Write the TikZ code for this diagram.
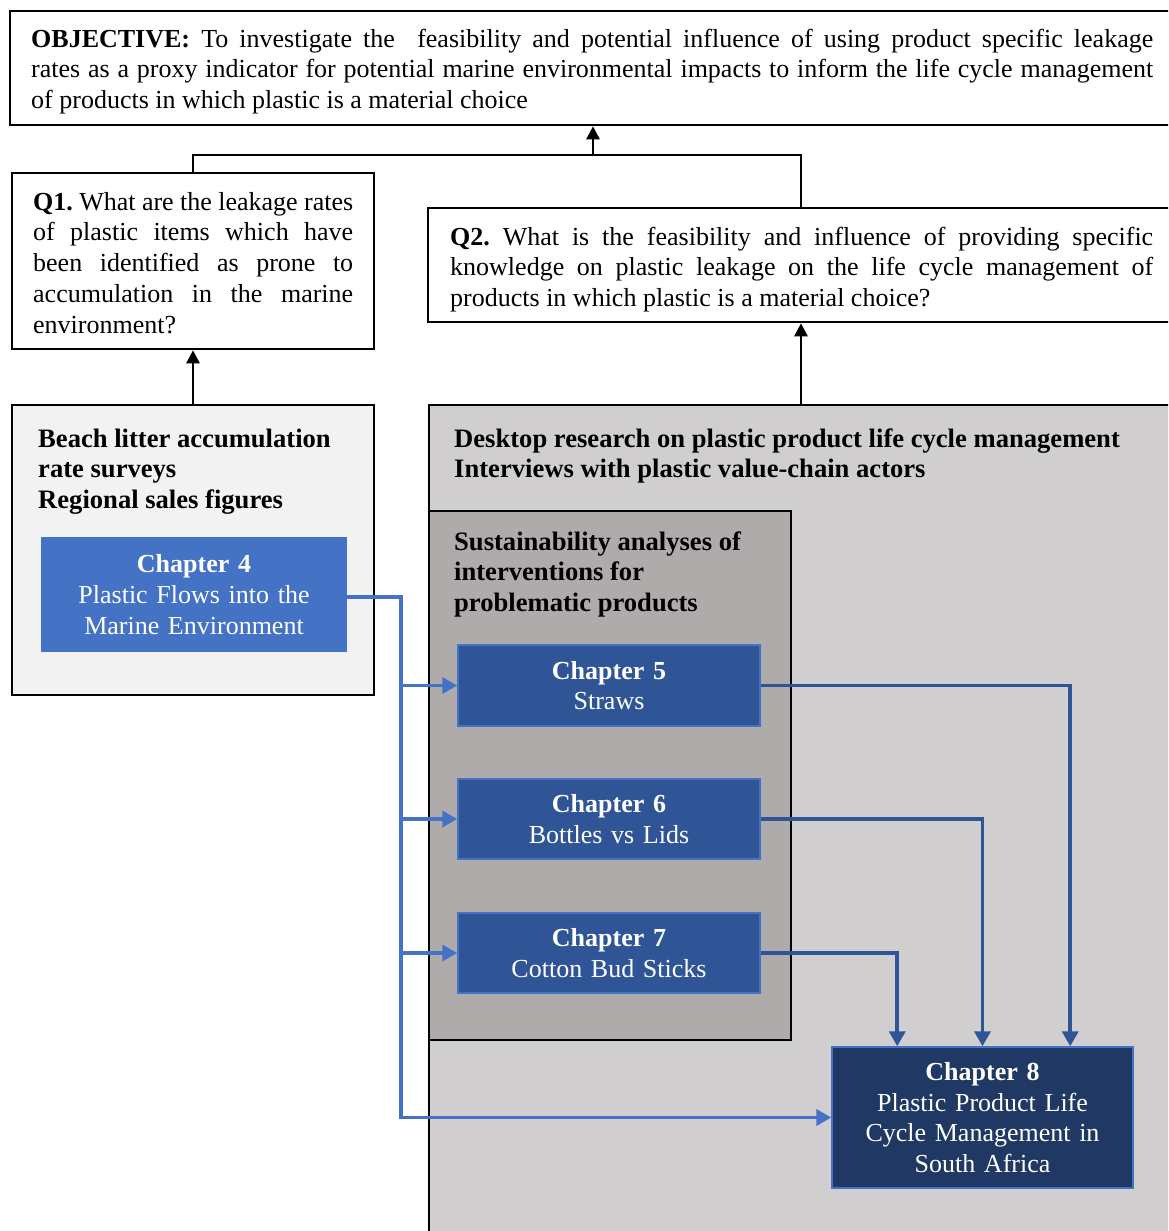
\documentclass[tikz,border=0pt]{standalone}
\usepackage{fontspec}
\setmainfont{Liberation Serif}
\usetikzlibrary{arrows.meta,calc}
\frenchspacing

\definecolor{beachfill}{HTML}{F2F2F2}
\definecolor{deskfill}{HTML}{D0CECE}
\definecolor{susfill}{HTML}{AFABAB}
\definecolor{chapblue}{HTML}{4472C4}
\definecolor{chapmid}{HTML}{2F5597}
\definecolor{chapdark}{HTML}{1F3864}

% a line stretched to a given width (justified) and a natural-width line
\newcommand{\jline}[2]{\hbox to #1{\strut #2}}
\newcommand{\pline}[1]{\hbox{\strut #1}}

\begin{document}
\begin{tikzpicture}[x=1pt,y=-1pt,
  every node/.style={font=\fontsize{26}{30.75}\selectfont},
  frame/.style={draw=black, line width=2.6pt, rectangle, inner sep=0pt},
  blurb/.style={anchor=north west, inner sep=0pt},
  boldblurb/.style={blurb, font=\fontsize{26.6}{30.75}\selectfont\bfseries},
  chapter/.style={rectangle, draw=chapblue, line width=1.5pt, text=white,
                  align=center, inner sep=0pt},
  blackline/.style={draw=black, line width=2.6pt},
  liteline/.style={draw=chapblue, line width=3.8pt},
  darkline/.style={draw=chapmid, line width=3.6pt},
  blacktip/.style={-{Triangle[width=13pt,length=13pt]}},
  bluetip/.style={-{Triangle[width=16pt,length=15pt]}},
]
\useasboundingbox (0,0) rectangle (1168,1231);
\clip (0,0) rectangle (1168,1231);

% ---------- objective and research questions ----------
\node[frame, minimum width=1166pt, minimum height=114pt] (objective) at (593,68) {};
\node[blurb] (objtext) at (31,25.5) {\vbox{%
  \jline{1122pt}{\textbf{OBJECTIVE:} To investigate the\ \ feasibility and potential influence of using product specific leakage}%
  \jline{1122pt}{rates as a proxy indicator for potential marine environmental impacts to inform the life cycle management}%
  \pline{of products in which plastic is a material choice}}};

\node[frame, minimum width=362pt, minimum height=176pt] (q1) at (193,261) {};
\node[blurb] (q1text) at (33,188.5) {\vbox{%
  \jline{320pt}{\textbf{Q1.} What are the leakage rates}%
  \jline{320pt}{of plastic items which have}%
  \jline{320pt}{been identified as prone to}%
  \jline{320pt}{accumulation in the marine}%
  \pline{environment?}}};

\node[frame, minimum width=746pt, minimum height=114pt] (q2) at (801,265) {};
\node[blurb] (q2text) at (450,223.5) {\vbox{%
  \jline{703pt}{\textbf{Q2.} What is the feasibility and influence of providing specific}%
  \jline{703pt}{knowledge on plastic leakage on the life cycle management of}%
  \pline{products in which plastic is a material choice?}}};

% ---------- method containers ----------
\node[frame, fill=beachfill, minimum width=362pt, minimum height=290pt] (beach) at (193,550) {};
\node[boldblurb] (beachtext) at (38,425.5) {\vbox{%
  \pline{Beach litter accumulation}%
  \pline{rate surveys}%
  \pline{Regional sales figures}}};

\node[frame, fill=deskfill, minimum width=744pt, minimum height=845pt] (desk) at (801,827.5) {};
\node[boldblurb] (desktext) at (454,425.5) {\vbox{%
  \pline{Desktop research on plastic product life cycle management}%
  \pline{Interviews with plastic value-chain actors}}};

\node[frame, fill=susfill, minimum width=362pt, minimum height=529pt] (sus) at (610,775.5) {};
\node[boldblurb] (sustext) at (454,528.5) {\vbox{%
  \pline{Sustainability analyses of}%
  \pline{interventions for}%
  \pline{problematic products}}};

% ---------- chapters ----------
\node[chapter, fill=chapblue, minimum width=304pt, minimum height=113pt, text width=300pt] (ch4) at (194,594.5)
  {\textbf{Chapter 4}\\Plastic Flows into the\\Marine Environment};
\node[chapter, fill=chapmid, minimum width=302pt, minimum height=81pt, text width=298pt] (ch5) at (609,685.5)
  {\textbf{Chapter 5}\\Straws};
\node[chapter, fill=chapmid, minimum width=302pt, minimum height=80pt, text width=298pt] (ch6) at (609,819)
  {\textbf{Chapter 6}\\Bottles vs Lids};
\node[chapter, fill=chapmid, minimum width=302pt, minimum height=80pt, text width=298pt] (ch7) at (609,953)
  {\textbf{Chapter 7}\\Cotton Bud Sticks};
\node[chapter, fill=chapdark, minimum width=301pt, minimum height=141pt, text width=297pt] (ch8) at (982.5,1117.5)
  {\textbf{Chapter 8}\\Plastic Product Life\\Cycle Management in\\South Africa};

% ---------- black connectors ----------
\coordinate (join) at (593,155);
\draw[blackline] (q1.north) |- (join) -| (q2.north);
\draw[blackline, blacktip] (join) -- (objective.south);
\draw[blackline, blacktip] (beach.north) -- (q1.south);
\draw[blackline, blacktip] (desk.north) -- (q2.south);

% ---------- chapter 4 feeds the case studies and chapter 8 ----------
\coordinate (bus) at (401,597);
\draw[liteline, bluetip] (ch4.east |- bus) -- (bus) |- (ch8.west);
\draw[liteline, bluetip] (bus |- ch5.west) -- (ch5.west);
\draw[liteline, bluetip] (bus |- ch6.west) -- (ch6.west);
\draw[liteline, bluetip] (bus |- ch7.west) -- (ch7.west);

% ---------- case studies feed chapter 8 ----------
\draw[darkline, bluetip] (ch5.east) -| ($(ch8.north west)+(239,0)$);
\draw[darkline, bluetip] (ch6.east) -| (ch8.north);
\draw[darkline, bluetip] (ch7.east) -| ($(ch8.north west)+(66,0)$);
\end{tikzpicture}
\end{document}
